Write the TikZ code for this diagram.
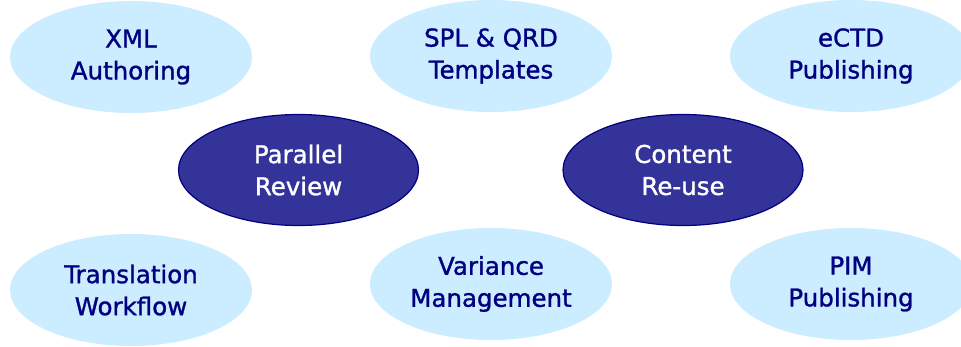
\documentclass[tikz,border=0pt]{standalone}
\usepackage{fontspec}
\newfontfamily\labelfont[FakeBold=1.2]{DejaVu Sans}
\usetikzlibrary{shapes.geometric}
\definecolor{lightfill}{HTML}{CCECFF}
\definecolor{darkfill}{HTML}{333399}
\definecolor{navytext}{HTML}{000080}
\tikzset{
  lightell/.style={ellipse, fill=lightfill, draw=none, minimum width=242pt, minimum height=112pt,
    inner sep=0pt, align=center, text=navytext, font=\labelfont\fontsize{24.5}{32}\selectfont},
  darkell/.style={ellipse, fill=darkfill, draw=navytext, line width=1.2pt, minimum width=240pt, minimum height=111pt,
    inner sep=0pt, align=center, text=white, font=\labelfont\fontsize{24.5}{32}\selectfont}
}
\begin{document}
\begin{tikzpicture}[x=1pt,y=1pt]
\useasboundingbox (0,0) rectangle (961,346);
\clip (0,0) rectangle (961,346);
\node[lightell] (xml) at (131,289) {XML\\Authoring};
\node[lightell] (spl) at (491,290) {SPL \& QRD\\Templates};
\node[lightell] (ectd) at (851,290) {eCTD\\Publishing};
\node[darkell] (par) at (298.5,176) {Parallel\\Review};
\node[darkell] (reuse) at (683,176) {Content\\Re-use};
\node[lightell] (trans) at (131,56) {Translation\\Workflow};
\node[lightell] (var) at (491,62) {Variance\\Management};
\node[lightell] (pim) at (851,62) {PIM\\Publishing};
\end{tikzpicture}
\end{document}
